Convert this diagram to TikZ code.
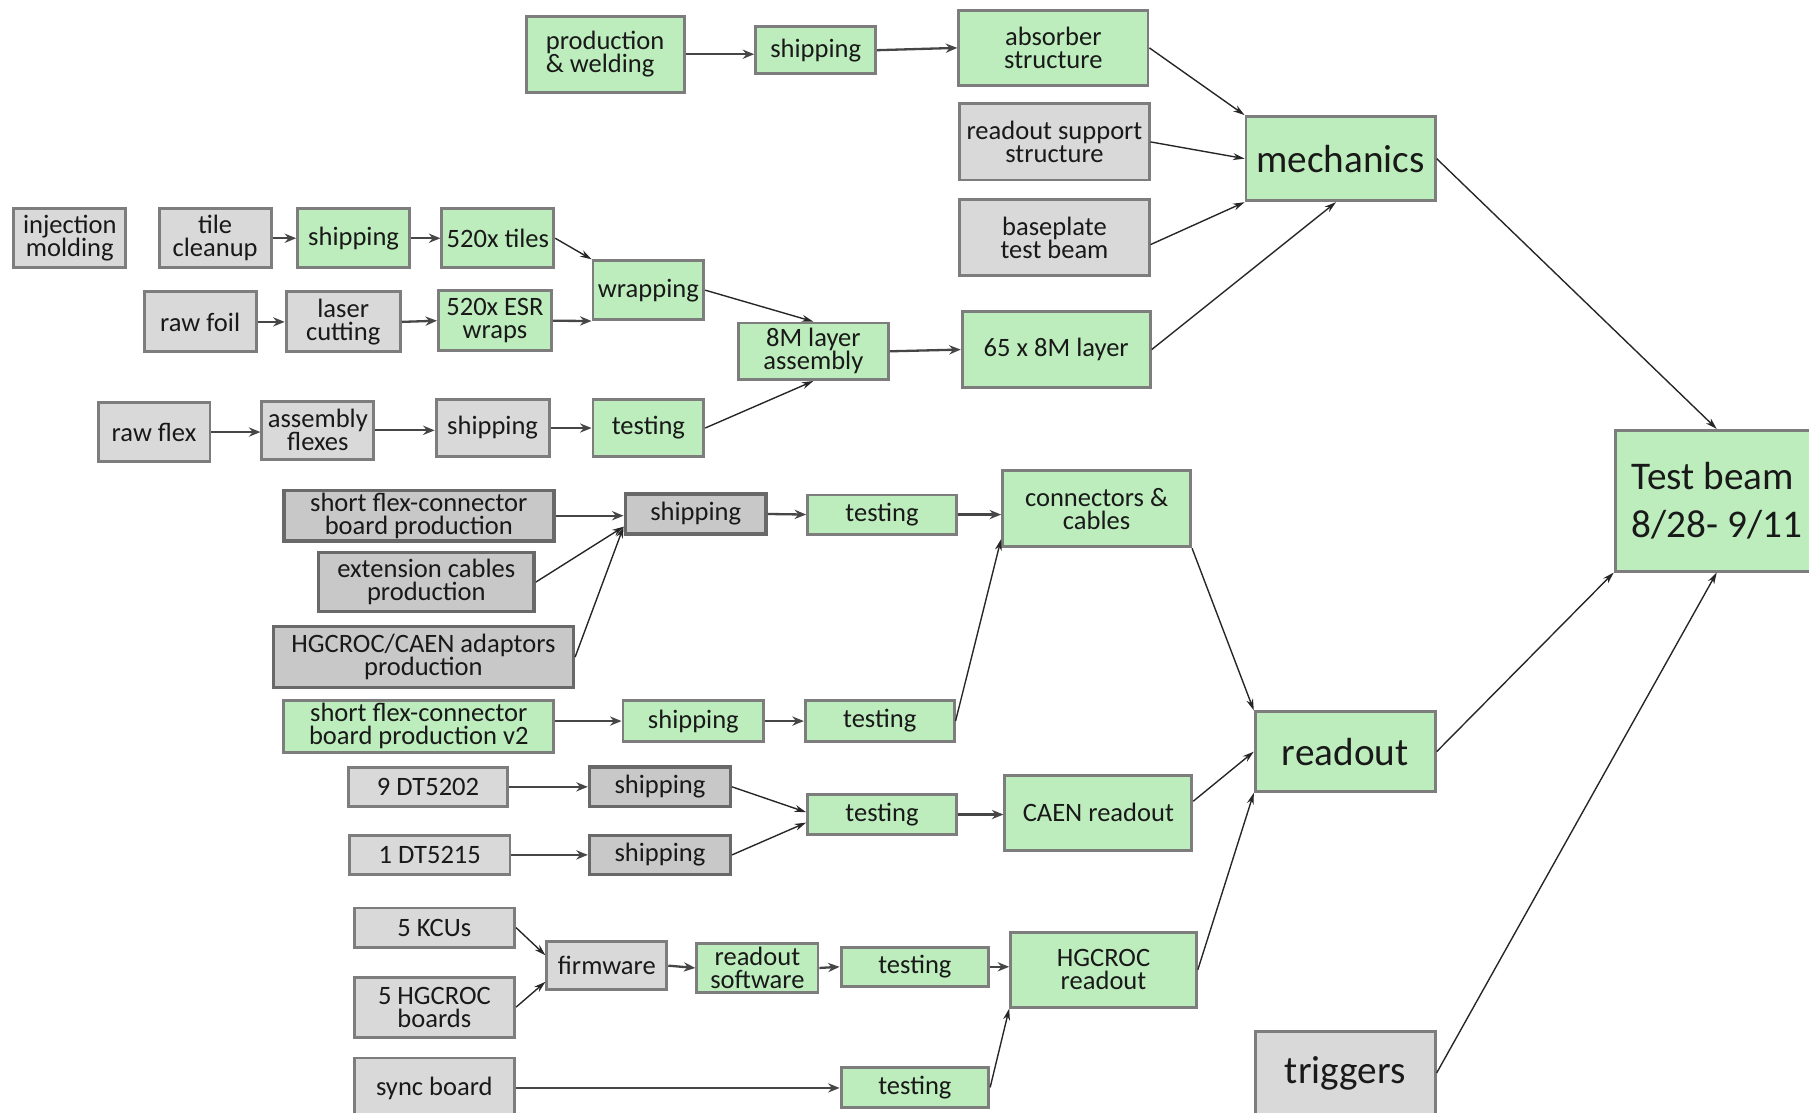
\documentclass[tikz,border=0pt]{standalone}
\usepackage{fontspec}
\setmainfont{Carlito}
\usetikzlibrary{arrows.meta,calc}
\definecolor{gfill}{RGB}{189,237,189}
\definecolor{lgfill}{RGB}{217,217,217}
\definecolor{dgfill}{RGB}{200,200,200}
\definecolor{bord}{RGB}{125,125,125}
\definecolor{dbord}{RGB}{105,105,105}
\definecolor{txt}{RGB}{25,25,25}
\definecolor{arr}{RGB}{70,70,70}
\newcommand\Bx[7]{\node[#1, minimum width={#5-#3}, minimum height={#6-#4}] (#2) at ({(#3+#5)/2},{-(#4+#6)/2}) {#7};}
\tikzset{
  base/.style={rectangle, draw=bord, line width=2.5pt, inner sep=2pt, text=txt, align=center, font={\fontsize{23}{20}\selectfont}},
  gbox/.style={base, fill=gfill},
  lbox/.style={base, fill=lgfill},
  dbox/.style={base, fill=dgfill, draw=dbord, line width=3pt},
  big/.style={font={\fontsize{34}{42}\selectfont}},
  harr/.style={draw=arr, line width=2pt, -{Stealth[length=10pt,width=8pt]}},
  darr/.style={draw=black!85, line width=1.2pt, -{Stealth[length=10pt,width=6pt]}},
}
\begin{document}
\begin{tikzpicture}[x=1pt,y=1pt]
\useasboundingbox (0,0) rectangle (1568,-964);
% top: mechanics
\Bx{gbox,align=left}{prodweld}{456}{14}{593}{80}{production\\\& welding}
\Bx{gbox}{shipA}{655}{23}{759}{64}{shipping}
\Bx{gbox}{absorber}{831}{9}{995}{74}{absorber\\structure}
\Bx{lbox}{rss}{832}{90}{996}{156}{readout support\\structure}
\Bx{lbox}{baseplate}{832}{173}{996}{239}{baseplate\\test beam}
\Bx{gbox,big}{mechanics}{1080}{101}{1244}{174}{mechanics}
\Bx{gbox}{layer65}{834}{270}{997}{336}{65 x 8M layer}
\Bx{gbox}{asm8M}{640}{280}{770}{329}{8M layer\\assembly}
\Bx{gbox,big,align=left}{testbeam}{1400}{373}{1576}{495}{Test beam\\8/28- 9/11}
% tiles
\Bx{lbox}{injection}{12}{181}{109}{232}{injection\\molding}
\Bx{lbox}{tilecleanup}{138}{181}{235}{232}{tile\\cleanup}
\Bx{gbox}{shipT}{258}{181}{355}{232}{shipping}
\Bx{gbox}{tiles}{383}{181}{480}{232}{520x tiles}
\Bx{gbox}{wrapping}{514}{226}{610}{277}{wrapping}
\Bx{lbox}{rawfoil}{125}{253}{222}{305}{raw foil}
\Bx{lbox}{laser}{248}{253}{347}{305}{laser\\cutting}
\Bx{gbox}{esr}{380}{252}{478}{304}{520x ESR\\wraps}
\Bx{lbox}{rawflex}{85}{349}{182}{400}{raw flex}
\Bx{lbox}{asmflex}{227}{348}{324}{398}{assembly\\flexes}
\Bx{lbox}{shipF}{378}{346}{476}{396}{shipping}
\Bx{gbox}{testF}{514}{346}{610}{396}{testing}
% connectors
\Bx{dbox}{sfc}{246}{425}{480}{469}{short flex-connector\\board production}
\Bx{dbox}{ext}{276}{479}{463}{530}{extension cables\\production}
\Bx{dbox}{hgcad}{237}{543}{497}{596}{HGCROC/CAEN adaptors\\production}
\Bx{dbox}{shipC}{542}{428}{664}{463}{shipping}
\Bx{gbox}{testC}{700}{429}{829}{463}{testing}
\Bx{gbox}{conn}{869}{408}{1032}{474}{connectors \&\\cables}
\Bx{gbox}{sfcB}{246}{607}{480}{652}{short flex-connector\\board production v2}
\Bx{gbox}{shipCB}{540}{607}{662}{643}{shipping}
\Bx{gbox}{testCB}{698}{607}{827}{643}{testing}
% CAEN
\Bx{lbox}{dtA}{302}{665}{440}{699}{9 DT5202}
\Bx{dbox}{shipDA}{511}{665}{633}{699}{shipping}
\Bx{lbox}{dtB}{303}{724}{442}{758}{1 DT5215}
\Bx{dbox}{shipDB}{511}{724}{633}{758}{shipping}
\Bx{gbox}{testD}{700}{689}{829}{723}{testing}
\Bx{gbox}{caen}{871}{672}{1033}{737}{CAEN readout}
\Bx{gbox,big}{readout}{1088}{617}{1244}{686}{readout}
% HGCROC
\Bx{lbox}{kcu}{307}{787}{446}{821}{5 KCUs}
\Bx{lbox}{hgcb}{307}{847}{446}{899}{5 HGCROC\\boards}
\Bx{lbox}{firmware}{474}{816}{578}{858}{firmware}
\Bx{gbox}{rosw}{604}{818}{709}{860}{readout\\software}
\Bx{gbox}{testH}{729}{821}{857}{855}{testing}
\Bx{gbox}{hgcro}{876}{808}{1037}{873}{HGCROC\\readout}
\Bx{lbox}{sync}{307}{917}{446}{969}{sync board}
\Bx{gbox}{testS}{729}{925}{857}{960}{testing}
\Bx{lbox,big}{triggers}{1088}{894}{1244}{966}{triggers}
% arrows: mechanics
\draw[harr] (prodweld.east) -- (prodweld.east -| shipA.west);
\draw[harr] (shipA.east) -- (absorber.west);
\draw[darr] (absorber.east) -- (mechanics.north west);
\draw[darr] (rss.east) -- (mechanics.west);
\draw[darr] ($(baseplate.east)+(0,-6)$) -- (mechanics.south west);
\draw[darr] (layer65.east) -- ($(mechanics.south)+(-4,0)$);
\draw[darr] (mechanics.east) -- (testbeam.north);
% tiles
\draw[harr] (tilecleanup.east) -- (shipT.west);
\draw[harr] (shipT.east) -- (tiles.west);
\draw[darr] (tiles.east) -- (wrapping.north west);
\draw[harr] (rawfoil.east) -- (laser.west);
\draw[harr] (laser.east) -- (esr.west);
\draw[harr] (esr.east) -- (wrapping.south west);
\draw[darr] (wrapping.east) -- (asm8M.north);
\draw[darr] (testF.east) -- (asm8M.south);
\draw[harr] (asm8M.east) -- (layer65.west);
\draw[harr] (rawflex.east) -- (rawflex.east -| asmflex.west);
\draw[harr] (asmflex.east) -- (asmflex.east -| shipF.west);
\draw[harr] (shipF.east) -- (testF.west);
% connectors
\draw[harr] (sfc.east) -- (sfc.east -| shipC.west);
\draw[darr] (ext.east) -- (shipC.190);
\draw[darr] (hgcad.east) -- (shipC.190);
\draw[harr] (shipC.east) -- (testC.west);
\draw[harr] (testC.east) -- (testC.east -| conn.west);
\draw[harr] (shipCB.west -| sfcB.east) -- (shipCB.west);
\draw[harr] (shipCB.east) -- (testCB.west);
\draw[darr] (testCB.east) -- ($(conn.south west)+(0,8)$);
\draw[darr] (conn.south east) -- (readout.north west);
% CAEN
\draw[harr] (dtA.east) -- (shipDA.west);
\draw[harr] (dtB.east) -- (shipDB.west);
\draw[darr] (shipDA.east) -- ($(testD.west)+(0,2)$);
\draw[darr] (shipDB.east) -- ($(testD.west)+(0,-7)$);
\draw[harr] (testD.east) -- (testD.east -| caen.west);
\draw[darr] ($(caen.east)+(0,10)$) -- (readout.west);
\draw[darr] (hgcro.east) -- (readout.south west);
\draw[darr] (readout.east) -- (testbeam.south west);
\draw[darr] (triggers.east) -- (testbeam.south);
% HGCROC
\draw[darr] (kcu.east) -- ($(firmware.west)+(0,9)$);
\draw[darr] (hgcb.east) -- ($(firmware.west)+(0,-14)$);
\draw[harr] (firmware.east) -- (rosw.west);
\draw[harr] (rosw.east) -- (testH.west);
\draw[harr] (testH.east) -- (testH.east -| hgcro.west);
\draw[harr] (sync.east) -- (sync.east -| testS.west);
\draw[darr] (testS.east) -- (hgcro.south west);
\end{tikzpicture}
\end{document}
